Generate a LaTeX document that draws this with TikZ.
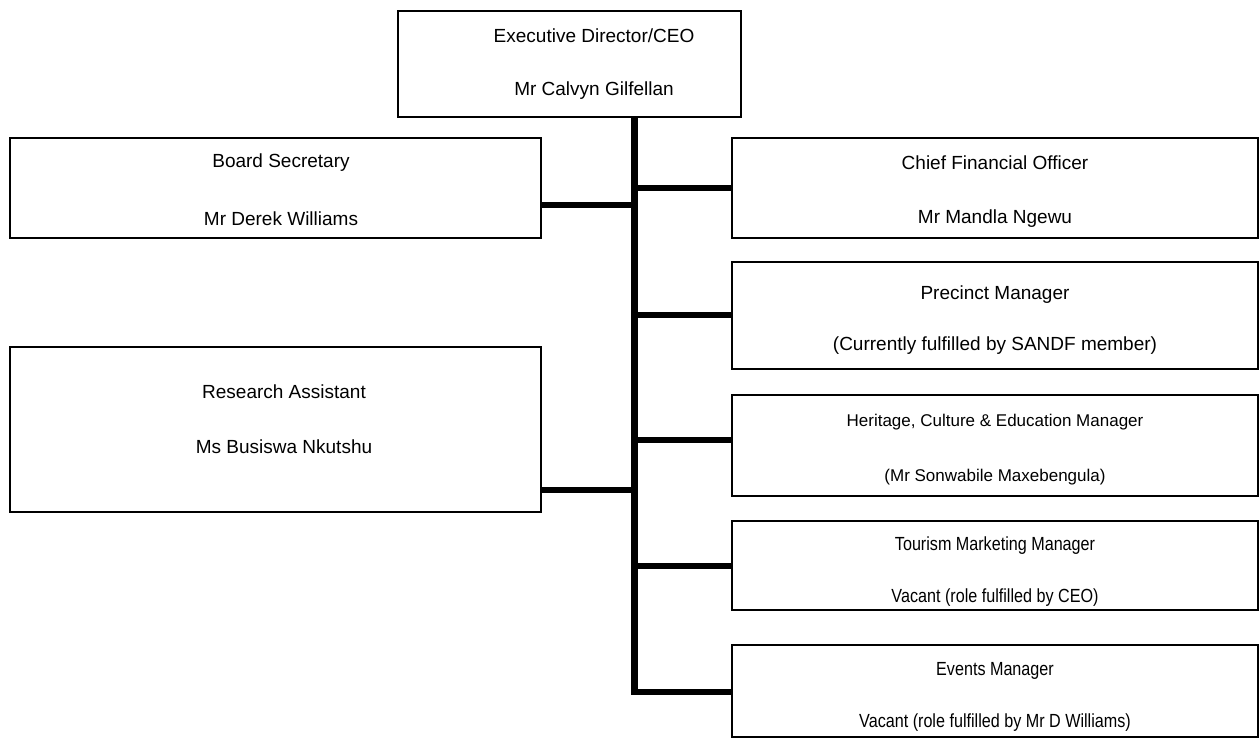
\documentclass[tikz,border=0pt]{standalone}
\usepackage{fontspec}
\setmainfont{Liberation Sans}
\begin{document}
\begin{tikzpicture}[x=1pt,y=-1pt,
  box/.style={draw, line width=1.8pt, rectangle, inner sep=0pt},
  conn/.style={line width=6pt},
  spine/.style={line width=7pt},
  lbl/.style={inner sep=0pt, font=\fontsize{19}{22}\selectfont},
  slbl/.style={inner sep=0pt, font=\fontsize{17}{20}\selectfont}]
\useasboundingbox (0,0) rectangle (1260,738);
% boxes
\node[box, minimum width=343pt, minimum height=106pt] (ceo) at (569.5,64) {};
\node[box, minimum width=531pt, minimum height=100pt] (bs) at (275.5,188) {};
\node[box, minimum width=531pt, minimum height=165pt] (ra) at (275.5,429.5) {};
\node[box, minimum width=526pt, minimum height=100pt] (cfo) at (995,188) {};
\node[box, minimum width=526pt, minimum height=107pt] (pm) at (995,315.5) {};
\node[box, minimum width=526pt, minimum height=101pt] (hm) at (995,445.5) {};
\node[box, minimum width=526pt, minimum height=89pt] (tm) at (995,565.5) {};
\node[box, minimum width=526pt, minimum height=92pt] (em) at (995,691) {};
% labels
\node[lbl] (ceoA) at (594,36) {Executive Director/CEO};
\node[lbl] (ceoB) at (594,91) {Mr Calvyn Gilfellan};
\node[lbl] (bsA) at (281,163) {Board Secretary};
\node[lbl] (bsB) at (281,219) {Mr Derek Williams};
\node[lbl] (raA) at (284,392) {Research Assistant};
\node[lbl] (raB) at (284,447) {Ms Busiswa Nkutshu};
\node[lbl] (cfoA) at (995,163) {Chief Financial Officer};
\node[lbl] (cfoB) at (995,219) {Mr Mandla Ngewu};
\node[lbl] (pmA) at (995,295) {Precinct Manager};
\node[lbl] (pmB) at (995,346) {(Currently fulfilled by SANDF member)};
\node[slbl] (hmA) at (995,422) {Heritage, Culture \& Education Manager};
\node[slbl] (hmB) at (995,477) {(Mr Sonwabile Maxebengula)};
\node[lbl] (tmA) at (995,546) {\scalebox{0.85}[1]{Tourism Marketing Manager}};
\node[lbl] (tmB) at (995,598) {\scalebox{0.85}[1]{Vacant (role fulfilled by CEO)}};
\node[lbl] (emA) at (995,671) {\scalebox{0.85}[1]{Events Manager}};
\node[lbl] (emB) at (995,723) {\scalebox{0.85}[1]{Vacant (role fulfilled by Mr D Williams)}};
% spine
\coordinate (sTop) at (634.5,117);
\coordinate (sBot) at (634.5,695);
\draw[spine] (ceo.south -| sTop) -- (sBot);
% connectors
\draw[conn] (sTop |- 0,205) -- (bs.east |- 0,205);
\draw[conn] (sTop |- 0,188) -- (cfo.west |- 0,188);
\draw[conn] (sTop |- 0,315) -- (pm.west |- 0,315);
\draw[conn] (sTop |- 0,440) -- (hm.west |- 0,440);
\draw[conn] (sTop |- 0,490) -- (ra.east |- 0,490);
\draw[conn] (sTop |- 0,566) -- (tm.west |- 0,566);
\draw[conn] (sTop |- 0,692) -- (em.west |- 0,692);
\end{tikzpicture}
\end{document}
